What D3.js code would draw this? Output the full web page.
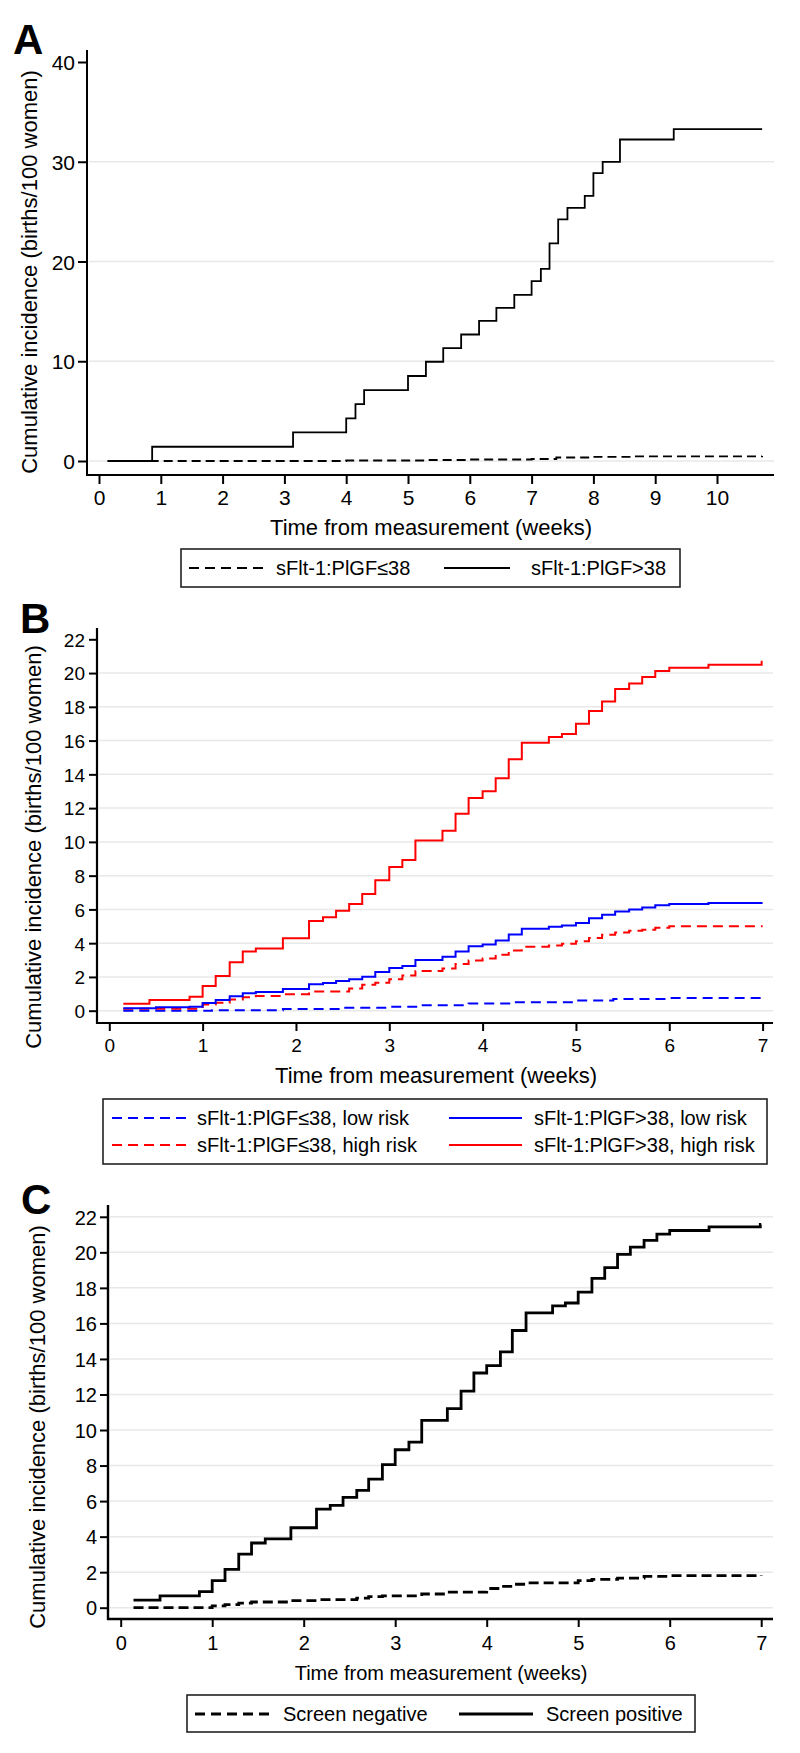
<!DOCTYPE html>
<html><head><meta charset="utf-8">
<script src="https://cdn.jsdelivr.net/npm/d3@7"></script>
<style>
body{margin:0;background:#fff}
svg{display:block}
</style>
</head><body>
<svg id="chart" width="800" height="1753"></svg>
<script>
// ---------- DATA ----------
// Panel A
const aXTicks = [0,1,2,3,4,5,6,7,8,9,10];
const aYTicks = [0,10,20,30,40];
const aGrid = [0,10,20,30];
const aLowT  = [0.14,4.0,5.3,6.0,7.0,7.4,8.0,8.6,10.73];
const aLowV  = [0,0.05,0.1,0.15,0.2,0.35,0.42,0.47,0.5];
const aHighT = [0.14,0.86,3.14,4.0,4.15,4.29,5.0,5.29,5.57,5.86,6.15,6.43,6.72,7.0,7.15,7.29,7.43,7.58,7.86,8.0,8.15,8.43,9.3,10.73];
const aHighV = [0,1.43,2.87,4.28,5.71,7.11,8.52,9.95,11.32,12.68,14.05,15.36,16.66,18.04,19.27,21.81,24.22,25.38,26.58,28.86,29.99,32.23,33.27,33.27];
const aLegend = ["sFlt-1:PlGF\u226438","sFlt-1:PlGF>38"];

// Panel B
const bXTicks = [0,1,2,3,4,5,6,7];
const bYTicks = [0,2,4,6,8,10,12,14,16,18,20,22];
const bGrid = [0,2,4,6,8,10,12,14,16,18,20];
const bLowLowT  = [0.15,1.1,1.86,2.5,3.0,3.3,3.85,4.3,5.0,5.4,6.0,7.0];
const bLowLowV  = [0,0.03,0.1,0.18,0.24,0.33,0.42,0.5,0.6,0.7,0.75,0.77];
const bHighLowT = [0.15,0.5,0.86,1.0,1.14,1.29,1.43,1.57,1.86,2.14,2.29,2.43,2.57,2.71,2.85,3.0,3.14,3.28,3.57,3.71,3.85,4.0,4.14,4.28,4.42,4.71,4.85,5.0,5.14,5.28,5.42,5.57,5.71,5.85,6.0,6.42,7.0];
const bHighLowV = [0.14,0.2,0.24,0.46,0.63,0.85,1.03,1.11,1.29,1.56,1.64,1.76,1.86,2.01,2.29,2.53,2.65,3.0,3.2,3.51,3.82,3.92,4.16,4.51,4.85,4.98,5.04,5.2,5.48,5.68,5.88,5.99,6.11,6.25,6.32,6.38,6.38];
const bLowHighT = [0.15,1.0,1.14,1.29,1.43,1.57,1.86,2.14,2.57,2.71,2.85,3.0,3.14,3.28,3.57,3.71,3.85,4.0,4.14,4.28,4.42,4.71,4.85,5.0,5.14,5.28,5.42,5.57,5.71,5.85,6.0,7.0];
const bLowHighV = [0.12,0.36,0.47,0.67,0.79,0.87,0.97,1.13,1.31,1.53,1.66,1.86,2.08,2.35,2.5,2.76,2.98,3.09,3.31,3.57,3.79,3.86,3.97,4.12,4.3,4.5,4.63,4.73,4.8,4.91,5.0,5.0];
const bHighHighT = [0.15,0.43,0.86,1.0,1.14,1.29,1.43,1.57,1.86,2.14,2.29,2.43,2.57,2.71,2.85,3.0,3.14,3.28,3.57,3.71,3.85,4.0,4.14,4.28,4.42,4.71,4.85,5.0,5.14,5.28,5.42,5.57,5.71,5.85,6.0,6.42,6.99,7.0];
const bHighHighV = [0.41,0.63,0.83,1.46,2.06,2.87,3.5,3.69,4.29,5.31,5.53,5.92,6.32,6.91,7.72,8.51,8.93,10.08,10.66,11.66,12.6,13.0,13.77,14.9,15.87,16.22,16.39,17.0,17.75,18.32,19.05,19.38,19.77,20.12,20.32,20.49,20.67,20.67];
const bLegend = ["sFlt-1:PlGF\u226438, low risk","sFlt-1:PlGF>38, low risk","sFlt-1:PlGF\u226438, high risk","sFlt-1:PlGF>38, high risk"];

// Panel C
const cXTicks = [0,1,2,3,4,5,6,7];
const cYTicks = [0,2,4,6,8,10,12,14,16,18,20,22];
const cGrid = [0,2,4,6,8,10,12,14,16,18,20,22];
const cNegT = [0.14,1.0,1.14,1.29,1.43,1.86,2.14,2.58,2.71,2.86,3.29,3.57,4.0,4.15,4.28,4.43,5.0,5.15,5.43,5.72,6.0,7.0];
const cNegV = [0,0.1,0.17,0.26,0.32,0.4,0.45,0.54,0.62,0.66,0.77,0.88,1.08,1.2,1.32,1.4,1.52,1.59,1.66,1.76,1.8,1.84];
const cPosT = [0.14,0.43,0.86,1.0,1.14,1.29,1.43,1.58,1.86,2.14,2.29,2.43,2.58,2.71,2.86,3.0,3.15,3.29,3.57,3.72,3.86,4.0,4.15,4.28,4.43,4.72,4.86,5.0,5.15,5.29,5.43,5.57,5.72,5.86,6.0,6.43,6.99,7.0];
const cPosV = [0.43,0.66,0.9,1.52,2.16,3.02,3.64,3.87,4.5,5.55,5.76,6.21,6.6,7.24,8.05,8.89,9.32,10.54,11.2,12.19,13.21,13.62,14.4,15.6,16.59,16.99,17.15,17.76,18.54,19.14,19.89,20.29,20.67,21.03,21.23,21.43,21.57,21.57];
const cLegend = ["Screen negative","Screen positive"];

const xTitle = "Time from measurement (weeks)";
const yTitle = "Cumulative incidence (births/100 women)";

// ---------- DRAW ----------
const FONT = "'Liberation Sans', Arial, Helvetica, sans-serif";
const svg = d3.select("#chart");
svg.append("rect").attr("width",800).attr("height",1753).attr("fill","#fff");

function zip(t,v){ return t.map((d,i)=>[d,v[i]]); }

function panel(cfg){
  const g = svg.append("g");
  const x = d3.scaleLinear().domain(cfg.xDom).range(cfg.xRange);
  const y = d3.scaleLinear().domain(cfg.yDom).range(cfg.yRange);

  // grid
  g.append("g").selectAll("line").data(cfg.grid).join("line")
    .attr("x1", cfg.axisX+2).attr("x2", cfg.right)
    .attr("y1", d=>y(d)).attr("y2", d=>y(d))
    .attr("stroke","#e8e8e8").attr("stroke-width",1.5);

  // series
  const line = d3.line().x(d=>x(d[0])).y(d=>y(d[1])).curve(d3.curveStepAfter);
  cfg.series.forEach(s=>{
    g.append("path").attr("d", line(zip(s.t,s.v)))
      .attr("fill","none").attr("stroke", s.color).attr("stroke-width", s.w)
      .attr("stroke-dasharray", s.dash || null).attr("stroke-linejoin","miter");
  });

  // y axis
  const gy = g.append("g").attr("transform",`translate(${cfg.axisX},0)`)
    .call(d3.axisLeft(y).tickValues(cfg.yTicks).tickSize(cfg.tick).tickPadding(cfg.yPad).tickFormat(d3.format("d")));
  gy.select(".domain").remove();
  gy.attr("font-family", FONT).attr("font-size", cfg.tickFont);
  gy.selectAll(".tick line").attr("stroke","#000").attr("stroke-width",2);
  gy.selectAll(".tick text").attr("fill","#000").attr("dy","0.36em");

  // x axis
  const gx = g.append("g").attr("transform",`translate(0,${cfg.axisY})`)
    .call(d3.axisBottom(x).tickValues(cfg.xTicks).tickSize(cfg.tick).tickPadding(cfg.xPad).tickFormat(d3.format("d")));
  gx.select(".domain").remove();
  gx.attr("font-family", FONT).attr("font-size", cfg.tickFont);
  gx.selectAll(".tick line").attr("stroke","#000").attr("stroke-width",2);
  gx.selectAll(".tick text").attr("fill","#000");

  // axis lines
  g.append("line").attr("x1",cfg.axisX).attr("x2",cfg.axisX).attr("y1",cfg.top).attr("y2",cfg.axisY+1)
    .attr("stroke","#000").attr("stroke-width",cfg.axisW);
  g.append("line").attr("x1",cfg.axisX-1).attr("x2",cfg.right).attr("y1",cfg.axisY).attr("y2",cfg.axisY)
    .attr("stroke","#000").attr("stroke-width",cfg.axisW);

  // titles
  g.append("text").attr("x",cfg.xtX).attr("y",cfg.xtY).attr("dy","0.35em")
    .attr("text-anchor","middle").attr("font-family",FONT).attr("font-size",cfg.xtFont).text(xTitle);
  g.append("text").attr("transform",`translate(${cfg.ytX},${cfg.ytY}) rotate(-90)`).attr("dy","0.35em")
    .attr("text-anchor","middle").attr("font-family",FONT).attr("font-size",cfg.ytFont).text(yTitle);

  // panel letter
  g.append("text").attr("x",cfg.lx).attr("y",cfg.ly).attr("font-family",FONT).attr("font-weight","bold")
    .attr("font-size",42).text(cfg.letter);

  // legend
  const L = cfg.legend;
  g.append("rect").attr("x",L.x).attr("y",L.y).attr("width",L.w).attr("height",L.h)
    .attr("fill","#fff").attr("stroke","#222").attr("stroke-width",1.6);
  L.items.forEach(it=>{
    g.append("line").attr("x1",it.x1).attr("x2",it.x2).attr("y1",it.y).attr("y2",it.y)
      .attr("stroke",it.color).attr("stroke-width",it.w).attr("stroke-dasharray",it.dash||null);
    g.append("text").attr("x",it.tx).attr("y",it.y).attr("dy","0.35em")
      .attr("font-family",FONT).attr("font-size",L.font).text(it.label);
  });
}

// Panel A
panel({
  letter:"A", lx:13, ly:54,
  xDom:[0,10], xRange:[99,717], yDom:[0,40], yRange:[461,62],
  axisX:87, axisY:475, top:50, right:774, tick:9, yPad:3, xPad:6, tickFont:21, axisW:2,
  xTicks:aXTicks, yTicks:aYTicks, grid:aGrid,
  xtX:431, xtY:527, xtFont:22, ytX:29, ytY:272, ytFont:22,
  series:[
    {t:aLowT, v:aLowV, color:"#000", w:1.8, dash:"9,5"},
    {t:aHighT, v:aHighV, color:"#000", w:1.8}
  ],
  legend:{x:181,y:549,w:499,h:38,font:20,items:[
    {x1:189,x2:263,y:568,tx:276,label:aLegend[0],color:"#000",w:1.8,dash:"10,6"},
    {x1:444,x2:510,y:568,tx:531,label:aLegend[1],color:"#000",w:1.8}
  ]}
});

// Panel B
panel({
  letter:"B", lx:20, ly:633,
  xDom:[0,7], xRange:[109.3,762.6], yDom:[0,22], yRange:[1010.7,639.3],
  axisX:97, axisY:1023, top:628, right:773, tick:8, yPad:4, xPad:8, tickFont:19, axisW:2.2,
  xTicks:bXTicks, yTicks:bYTicks, grid:bGrid,
  xtX:436, xtY:1075, xtFont:22, ytX:33, ytY:847, ytFont:22,
  series:[
    {t:bLowLowT, v:bLowLowV, color:"#0000ff", w:2, dash:"10,6"},
    {t:bLowHighT, v:bLowHighV, color:"#ff0000", w:2, dash:"10,6"},
    {t:bHighLowT, v:bHighLowV, color:"#0000ff", w:2},
    {t:bHighHighT, v:bHighHighV, color:"#ff0000", w:2}
  ],
  legend:{x:103,y:1099,w:664,h:65,font:20,items:[
    {x1:112,x2:187,y:1118,tx:197,label:bLegend[0],color:"#0000ff",w:2,dash:"10,6"},
    {x1:449,x2:522,y:1118,tx:534,label:bLegend[1],color:"#0000ff",w:2},
    {x1:112,x2:187,y:1145,tx:197,label:bLegend[2],color:"#ff0000",w:2,dash:"10,6"},
    {x1:449,x2:522,y:1145,tx:534,label:bLegend[3],color:"#ff0000",w:2}
  ]}
});

// Panel C
panel({
  letter:"C", lx:21, ly:1214,
  xDom:[0,7], xRange:[120.7,761.2], yDom:[0,22], yRange:[1607.7,1216.8],
  axisX:108, axisY:1619, top:1205, right:773, tick:8, yPad:3, xPad:9, tickFont:20, axisW:2.4,
  xTicks:cXTicks, yTicks:cYTicks, grid:cGrid,
  xtX:441, xtY:1673, xtFont:20, ytX:37, ytY:1427, ytFont:22,
  series:[
    {t:cNegT, v:cNegV, color:"#000", w:2.8, dash:"10,5"},
    {t:cPosT, v:cPosV, color:"#000", w:2.8}
  ],
  legend:{x:187,y:1695,w:508,h:37,font:20,items:[
    {x1:195,x2:270,y:1714,tx:283,label:cLegend[0],color:"#000",w:2.8,dash:"10,6"},
    {x1:459,x2:533,y:1714,tx:546,label:cLegend[1],color:"#000",w:2.8}
  ]}
});
</script>
</body></html>
